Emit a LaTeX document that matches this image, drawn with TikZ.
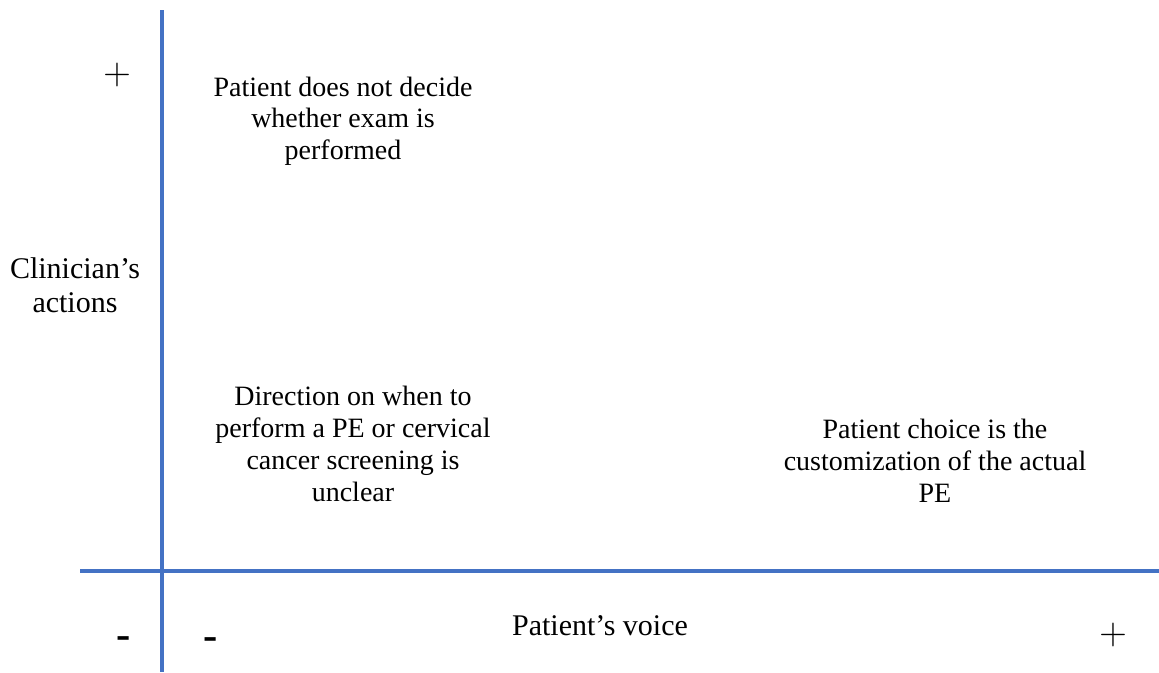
\documentclass[tikz,border=0pt]{standalone}
\usepackage{fontspec}
\setmainfont{Liberation Serif}
\usepackage{tikz}
\usetikzlibrary{calc}
\definecolor{axisblue}{RGB}{68,114,196}

\begin{document}
\begin{tikzpicture}[x=0.75pt,y=-0.75pt,
    axisline/.style={axisblue, line width=3.5pt},
    quadtext/.style={align=center, font=\fontsize{21}{23.8}\selectfont},
    axistext/.style={align=center, font=\fontsize{22.5}{25.5}\selectfont},
    signtext/.style={font=\fontsize{32}{34}\selectfont}]
  \useasboundingbox (0,0) rectangle (1159,672);

  % Ejes
  \coordinate (vtop) at (162,10);
  \coordinate (vbot) at (162,672);
  \coordinate (hleft) at (80,571);
  \coordinate (hright) at (1159,571);
  \draw[axisline] (vtop) -- (vbot);
  \draw[axisline] (hleft) -- (hright);

  % Etiquetas de los ejes
  \node[axistext] (clin) at (75,285) {Clinician's\\actions};
  \node[axistext] (voice) at (600,626) {Patient's voice};

  % Signos
  \node[signtext, scale=1.15] (yplus) at (117,75) {$+$};
  \node[signtext] (yminus) at (124,643) {\textbf{-}};
  \node[signtext] (xminus) at (211,644) {\textbf{-}};
  \node[signtext, scale=1.15] (xplus) at (1113,635) {$+$};

  % Textos de los cuadrantes
  \node[quadtext] (topleft) at (343,121) {Patient does not decide\\whether exam is\\performed};
  \node[quadtext] (botleft) at (353,444) {Direction on when to\\perform a PE or cervical\\cancer screening is\\unclear};
  \node[quadtext] (botright) at (935,461) {Patient choice is the\\customization of the actual\\PE};
\end{tikzpicture}
\end{document}
